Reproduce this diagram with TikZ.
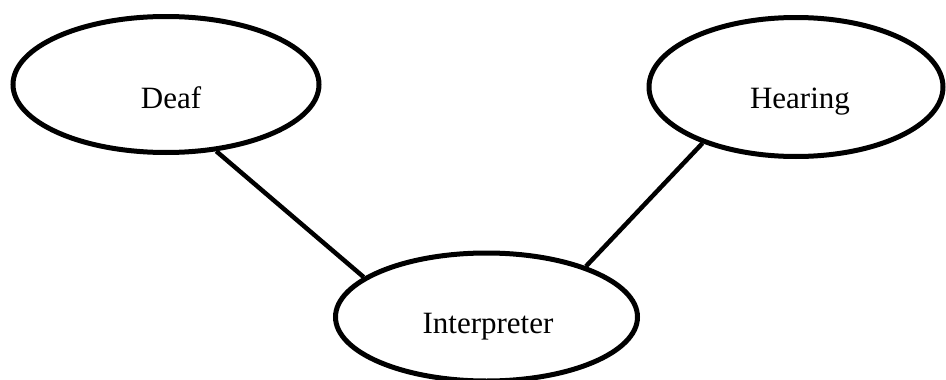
\documentclass[tikz,border=0pt]{standalone}
\usepackage{fontspec}
\setmainfont{Liberation Serif}
\usetikzlibrary{shapes.geometric}
\begin{document}
\begin{tikzpicture}[x=1pt,y=-1pt,
  bubble/.style={ellipse,draw=black,line width=5pt,inner sep=0pt,fill=white},
  conn/.style={draw=black,line width=4.5pt},
  lbl/.style={font=\fontsize{31}{37}\selectfont,anchor=base,inner sep=0pt}]
\useasboundingbox (0,0) rectangle (946,380);
\node[bubble,minimum width=306pt,minimum height=136pt] (deaf) at (166,84.5) {};
\node[bubble,minimum width=294pt,minimum height=139pt] (hearing) at (796,87) {};
\node[bubble,minimum width=302pt,minimum height=128pt] (interp) at (486.5,317) {};
\draw[conn] (deaf.-53) -- (interp.162.8);
\draw[conn] (hearing.211) -- (interp.27.1);
\node[lbl] (deaftext) at (171,108.3) {Deaf};
\node[lbl] (hearingtext) at (800,108.3) {Hearing};
\node[lbl] (interptext) at (488,333.3) {Interpreter};
\end{tikzpicture}
\end{document}
